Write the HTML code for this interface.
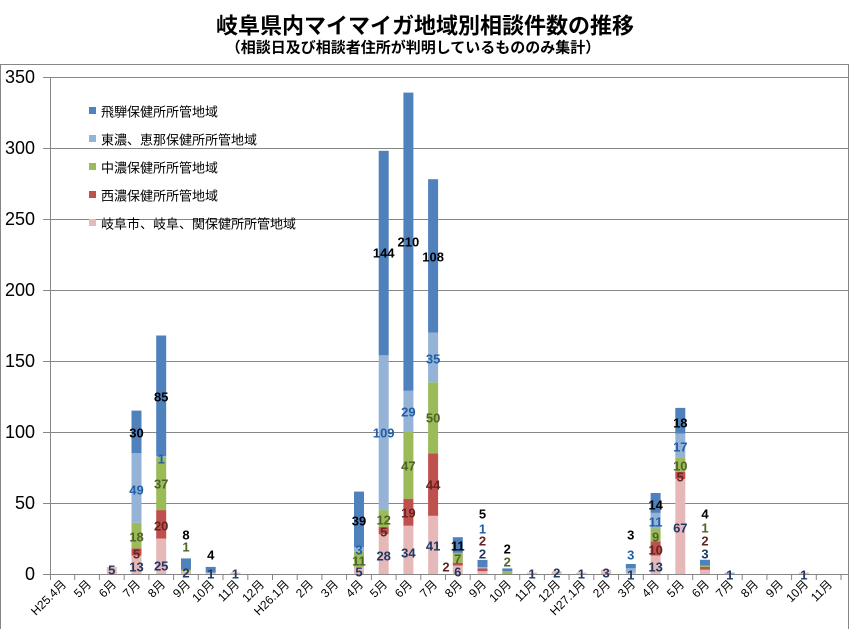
<!DOCTYPE html>
<html><head><meta charset="utf-8"><style>
html,body{margin:0;padding:0;background:#fff}
svg{display:block}
text{font-family:"Liberation Sans","Noto Sans CJK JP",sans-serif}
.l{font-size:13px;font-weight:bold;text-anchor:middle;dominant-baseline:central}
.n{fill:#1f3864}.r{fill:#632523}.g{fill:#4f6228}.b{fill:#1f5fa8}.k{fill:#000}
.x{font-size:12px;text-anchor:end}
.y{font-size:18px;text-anchor:end;dominant-baseline:central}
.lg{font-size:13px;dominant-baseline:central}
</style></head><body>
<svg width="849" height="629" viewBox="0 0 849 629" xmlns="http://www.w3.org/2000/svg">
<text x="425" y="26" font-size="22" font-weight="bold" text-anchor="middle" dominant-baseline="central">岐阜県内マイマイガ地域別相談件数の推移</text>
<text x="413" y="48" font-size="15" font-weight="bold" text-anchor="middle" dominant-baseline="central">（相談日及び相談者住所が判明しているもののみ集計）</text>
<rect x="0.5" y="64.5" width="848" height="570" fill="none" stroke="#868686"/>
<g stroke="#868686" stroke-width="1">
<line x1="43" y1="77.5" x2="848" y2="77.5"/><line x1="43" y1="148.5" x2="848" y2="148.5"/><line x1="43" y1="219.5" x2="848" y2="219.5"/><line x1="43" y1="290.5" x2="848" y2="290.5"/><line x1="43" y1="361.5" x2="848" y2="361.5"/><line x1="43" y1="432.5" x2="848" y2="432.5"/><line x1="43" y1="503.5" x2="848" y2="503.5"/><line x1="43" y1="574.5" x2="848" y2="574.5"/>
<line x1="50.5" y1="77" x2="50.5" y2="580"/>
</g>
<g stroke="#868686">
<path d="M74.7 574v6M99.4 574v6M124.2 574v6M148.9 574v6M173.6 574v6M198.3 574v6M223 574v6M247.8 574v6M272.5 574v6M297.2 574v6M321.9 574v6M346.6 574v6M371.4 574v6M396.1 574v6M420.8 574v6M445.5 574v6M470.2 574v6M495 574v6M519.7 574v6M544.4 574v6M569.1 574v6M593.8 574v6M618.6 574v6M643.3 574v6M668 574v6M692.7 574v6M717.4 574v6M742.2 574v6M766.9 574v6M791.6 574v6M816.3 574v6M841 574v6"/>
</g>
<g>
<text class="y" x="35" y="77">350</text><text class="y" x="35" y="148">300</text><text class="y" x="35" y="219">250</text><text class="y" x="35" y="290">200</text><text class="y" x="35" y="361">150</text><text class="y" x="35" y="432">100</text><text class="y" x="35" y="503">50</text><text class="y" x="35" y="574">0</text>
</g>
<rect x="89" y="107" width="7" height="7" fill="#4f81bd"/><text class="lg" x="101" y="112">飛騨保健所所管地域</text>
<rect x="89" y="135" width="7" height="7" fill="#95b3d7"/><text class="lg" x="101" y="140">東濃、恵那保健所所管地域</text>
<rect x="89" y="163" width="7" height="7" fill="#9bbb59"/><text class="lg" x="101" y="168">中濃保健所所管地域</text>
<rect x="89" y="191" width="7" height="7" fill="#c0504d"/><text class="lg" x="101" y="196">西濃保健所所管地域</text>
<rect x="89" y="219" width="7" height="7" fill="#e6b9b8"/><text class="lg" x="101" y="224">岐阜市、岐阜、関保健所所管地域</text>
<g>
<rect x="106.8" y="566.9" width="10" height="7.1" fill="#e6b9b8"/>
<rect x="131.5" y="555.5" width="10" height="18.5" fill="#e6b9b8"/><rect x="131.5" y="548.4" width="10" height="7.1" fill="#c0504d"/><rect x="131.5" y="522.8" width="10" height="25.6" fill="#9bbb59"/><rect x="131.5" y="453.2" width="10" height="69.6" fill="#95b3d7"/><rect x="131.5" y="410.6" width="10" height="42.6" fill="#4f81bd"/>
<rect x="156.2" y="538.5" width="10" height="35.5" fill="#e6b9b8"/><rect x="156.2" y="510.1" width="10" height="28.4" fill="#c0504d"/><rect x="156.2" y="457.6" width="10" height="52.5" fill="#9bbb59"/><rect x="156.2" y="456.2" width="10" height="1.4" fill="#95b3d7"/><rect x="156.2" y="335.5" width="10" height="120.7" fill="#4f81bd"/>
<rect x="181" y="571.2" width="10" height="2.8" fill="#e6b9b8"/><rect x="181" y="569.8" width="10" height="1.4" fill="#9bbb59"/><rect x="181" y="558.4" width="10" height="11.4" fill="#4f81bd"/>
<rect x="205.7" y="572.6" width="10" height="1.4" fill="#e6b9b8"/><rect x="205.7" y="566.9" width="10" height="5.7" fill="#4f81bd"/>
<rect x="230.4" y="572.6" width="10" height="1.4" fill="#e6b9b8"/>
<rect x="354" y="566.9" width="10" height="7.1" fill="#e6b9b8"/><rect x="354" y="551.3" width="10" height="15.6" fill="#9bbb59"/><rect x="354" y="547" width="10" height="4.3" fill="#95b3d7"/><rect x="354" y="491.6" width="10" height="55.4" fill="#4f81bd"/>
<rect x="378.7" y="534.2" width="10" height="39.8" fill="#e6b9b8"/><rect x="378.7" y="527.1" width="10" height="7.1" fill="#c0504d"/><rect x="378.7" y="510.1" width="10" height="17" fill="#9bbb59"/><rect x="378.7" y="355.3" width="10" height="154.8" fill="#95b3d7"/><rect x="378.7" y="150.8" width="10" height="204.5" fill="#4f81bd"/>
<rect x="403.4" y="525.7" width="10" height="48.3" fill="#e6b9b8"/><rect x="403.4" y="498.7" width="10" height="27" fill="#c0504d"/><rect x="403.4" y="432" width="10" height="66.7" fill="#9bbb59"/><rect x="403.4" y="390.8" width="10" height="41.2" fill="#95b3d7"/><rect x="403.4" y="92.6" width="10" height="298.2" fill="#4f81bd"/>
<rect x="428.1" y="515.8" width="10" height="58.2" fill="#e6b9b8"/><rect x="428.1" y="453.3" width="10" height="62.5" fill="#c0504d"/><rect x="428.1" y="382.3" width="10" height="71" fill="#9bbb59"/><rect x="428.1" y="332.6" width="10" height="49.7" fill="#95b3d7"/><rect x="428.1" y="179.2" width="10" height="153.4" fill="#4f81bd"/>
<rect x="452.8" y="565.5" width="10" height="8.5" fill="#e6b9b8"/><rect x="452.8" y="562.7" width="10" height="2.8" fill="#c0504d"/><rect x="452.8" y="552.8" width="10" height="9.9" fill="#9bbb59"/><rect x="452.8" y="537.2" width="10" height="15.6" fill="#4f81bd"/>
<rect x="477.5" y="571.2" width="10" height="2.8" fill="#e6b9b8"/><rect x="477.5" y="568.4" width="10" height="2.8" fill="#c0504d"/><rect x="477.5" y="567" width="10" height="1.4" fill="#95b3d7"/><rect x="477.5" y="559.9" width="10" height="7.1" fill="#4f81bd"/>
<rect x="502.3" y="571.2" width="10" height="2.8" fill="#9bbb59"/><rect x="502.3" y="568.4" width="10" height="2.8" fill="#4f81bd"/>
<rect x="527" y="572.6" width="10" height="1.4" fill="#e6b9b8"/>
<rect x="551.7" y="571.2" width="10" height="2.8" fill="#e6b9b8"/>
<rect x="576.4" y="572.6" width="10" height="1.4" fill="#e6b9b8"/>
<rect x="601.1" y="569.7" width="10" height="4.3" fill="#e6b9b8"/>
<rect x="625.8" y="572.6" width="10" height="1.4" fill="#e6b9b8"/><rect x="625.8" y="568.3" width="10" height="4.3" fill="#95b3d7"/><rect x="625.8" y="564" width="10" height="4.3" fill="#4f81bd"/>
<rect x="650.6" y="555.5" width="10" height="18.5" fill="#e6b9b8"/><rect x="650.6" y="541.3" width="10" height="14.2" fill="#c0504d"/><rect x="650.6" y="528.5" width="10" height="12.8" fill="#9bbb59"/><rect x="650.6" y="512.9" width="10" height="15.6" fill="#95b3d7"/><rect x="650.6" y="493" width="10" height="19.9" fill="#4f81bd"/>
<rect x="675.3" y="478.9" width="10" height="95.1" fill="#e6b9b8"/><rect x="675.3" y="471.8" width="10" height="7.1" fill="#c0504d"/><rect x="675.3" y="457.6" width="10" height="14.2" fill="#9bbb59"/><rect x="675.3" y="433.5" width="10" height="24.1" fill="#95b3d7"/><rect x="675.3" y="407.9" width="10" height="25.6" fill="#4f81bd"/>
<rect x="700" y="569.7" width="10" height="4.3" fill="#e6b9b8"/><rect x="700" y="566.9" width="10" height="2.8" fill="#c0504d"/><rect x="700" y="565.5" width="10" height="1.4" fill="#9bbb59"/><rect x="700" y="559.8" width="10" height="5.7" fill="#4f81bd"/>
<rect x="724.7" y="572.6" width="10" height="1.4" fill="#95b3d7"/>
<rect x="798.9" y="572.6" width="10" height="1.4" fill="#e6b9b8"/>
</g>
<g>
<text class="l n" x="111.8" y="570">5</text>
<text class="l n" x="136.5" y="567">13</text><text class="l r" x="136.5" y="554">5</text><text class="l g" x="136.5" y="537">18</text><text class="l b" x="136.5" y="490">49</text><text class="l k" x="136.5" y="433">30</text>
<text class="l n" x="161.2" y="566">25</text><text class="l r" x="161.2" y="526">20</text><text class="l g" x="161.2" y="484">37</text><text class="l b" x="161.2" y="459">1</text><text class="l k" x="161.2" y="397">85</text>
<text class="l n" x="186" y="573">2</text><text class="l g" x="186" y="547">1</text><text class="l k" x="186" y="535">8</text>
<text class="l n" x="210.7" y="574">1</text><text class="l k" x="210.7" y="555">4</text>
<text class="l n" x="235.4" y="574">1</text>
<text class="l n" x="359" y="572">5</text><text class="l g" x="359" y="561">11</text><text class="l b" x="359" y="550">3</text><text class="l k" x="359" y="521">39</text>
<text class="l n" x="383.7" y="556">28</text><text class="l r" x="383.7" y="532">5</text><text class="l g" x="383.7" y="520">12</text><text class="l b" x="383.7" y="433">109</text><text class="l k" x="383.7" y="253">144</text>
<text class="l n" x="408.4" y="553">34</text><text class="l r" x="408.4" y="513">19</text><text class="l g" x="408.4" y="466">47</text><text class="l b" x="408.4" y="412">29</text><text class="l k" x="408.4" y="242">210</text>
<text class="l n" x="433.1" y="546">41</text><text class="l r" x="433.1" y="485">44</text><text class="l g" x="433.1" y="418">50</text><text class="l b" x="433.1" y="359">35</text><text class="l k" x="433.1" y="257">108</text>
<text class="l n" x="457.8" y="572">6</text><text class="l r" x="446" y="567">2</text><text class="l g" x="457.8" y="559">7</text><text class="l k" x="457.8" y="546">11</text>
<text class="l n" x="482.5" y="554">2</text><text class="l r" x="482.5" y="541">2</text><text class="l b" x="482.5" y="529">1</text><text class="l k" x="482.5" y="514">5</text>
<text class="l g" x="507.3" y="562">2</text><text class="l k" x="507.3" y="549">2</text>
<text class="l n" x="532" y="574">1</text><text class="l n" x="556.7" y="573">2</text><text class="l n" x="581.4" y="574">1</text><text class="l n" x="606.1" y="573">3</text>
<text class="l n" x="630.8" y="575">1</text><text class="l b" x="630.8" y="555">3</text><text class="l k" x="630.8" y="535">3</text>
<text class="l n" x="655.6" y="567">13</text><text class="l r" x="655.6" y="550">10</text><text class="l g" x="655.6" y="537">9</text><text class="l b" x="655.6" y="522">11</text><text class="l k" x="655.6" y="505">14</text>
<text class="l n" x="680.3" y="528">67</text><text class="l r" x="680.3" y="477">5</text><text class="l g" x="680.3" y="466">10</text><text class="l b" x="680.3" y="447">17</text><text class="l k" x="680.3" y="423">18</text>
<text class="l n" x="705" y="554">3</text><text class="l r" x="705" y="541">2</text><text class="l g" x="705" y="528">1</text><text class="l k" x="705" y="514">4</text>
<text class="l n" x="729.7" y="575">1</text><text class="l n" x="803.9" y="575">1</text>
</g>
<g>
<text class="x" transform="translate(67,585) rotate(-45)">H25.4月</text>
<text class="x" transform="translate(92,585) rotate(-45)">5月</text>
<text class="x" transform="translate(117,585) rotate(-45)">6月</text>
<text class="x" transform="translate(141,585) rotate(-45)">7月</text>
<text class="x" transform="translate(166,585) rotate(-45)">8月</text>
<text class="x" transform="translate(191,585) rotate(-45)">9月</text>
<text class="x" transform="translate(215,585) rotate(-45)">10月</text>
<text class="x" transform="translate(240,585) rotate(-45)">11月</text>
<text class="x" transform="translate(265,585) rotate(-45)">12月</text>
<text class="x" transform="translate(290,585) rotate(-45)">H26.1月</text>
<text class="x" transform="translate(314,585) rotate(-45)">2月</text>
<text class="x" transform="translate(339,585) rotate(-45)">3月</text>
<text class="x" transform="translate(364,585) rotate(-45)">4月</text>
<text class="x" transform="translate(388,585) rotate(-45)">5月</text>
<text class="x" transform="translate(413,585) rotate(-45)">6月</text>
<text class="x" transform="translate(438,585) rotate(-45)">7月</text>
<text class="x" transform="translate(463,585) rotate(-45)">8月</text>
<text class="x" transform="translate(487,585) rotate(-45)">9月</text>
<text class="x" transform="translate(512,585) rotate(-45)">10月</text>
<text class="x" transform="translate(537,585) rotate(-45)">11月</text>
<text class="x" transform="translate(561,585) rotate(-45)">12月</text>
<text class="x" transform="translate(586,585) rotate(-45)">H27.1月</text>
<text class="x" transform="translate(611,585) rotate(-45)">2月</text>
<text class="x" transform="translate(636,585) rotate(-45)">3月</text>
<text class="x" transform="translate(660,585) rotate(-45)">4月</text>
<text class="x" transform="translate(685,585) rotate(-45)">5月</text>
<text class="x" transform="translate(710,585) rotate(-45)">6月</text>
<text class="x" transform="translate(734,585) rotate(-45)">7月</text>
<text class="x" transform="translate(759,585) rotate(-45)">8月</text>
<text class="x" transform="translate(784,585) rotate(-45)">9月</text>
<text class="x" transform="translate(809,585) rotate(-45)">10月</text>
<text class="x" transform="translate(833,585) rotate(-45)">11月</text>
</g>
</svg>
</body></html>
